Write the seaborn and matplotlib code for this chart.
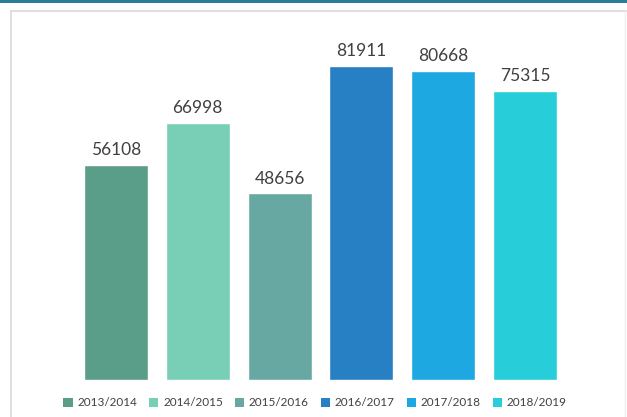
import matplotlib
matplotlib.use("Agg")
import matplotlib.pyplot as plt
import seaborn as sns
import pandas as pd
from matplotlib.patches import Rectangle
from matplotlib.lines import Line2D

categories = ["2013/2014", "2014/2015", "2015/2016", "2016/2017", "2017/2018", "2018/2019"]
values = [56108, 66998, 48656, 81911, 80668, 75315]
colors = ["#5A9E89", "#78CFB5", "#68A8A2", "#2880C4", "#1EA8E1", "#27CDD9"]

sns.set_theme(style="white")
plt.rcParams['font.family'] = ['Lato', 'DejaVu Sans']

df = pd.DataFrame({"year": categories, "value": values})

fig = plt.figure(figsize=(6.27, 4.17), dpi=100)
W, H = 627, 417
# top accent line
fig.patches.append(Rectangle((0, 1 - 3 / H), 1, 3 / H, transform=fig.transFigure,
                             facecolor="#2B7E9B", edgecolor="none", zorder=-2))
# panel border
ytop = 1 - 10.5 / H
fig.lines.append(Line2D([10.5 / W, 10.5 / W], [0, ytop], transform=fig.transFigure,
                        color="#D9D9D9", linewidth=1.2))
fig.lines.append(Line2D([10.5 / W, 1], [ytop, ytop], transform=fig.transFigure,
                        color="#D9D9D9", linewidth=1.2))
fig.lines.append(Line2D([625 / W, 625 / W], [0, ytop], transform=fig.transFigure,
                        color="#EFEFEF", linewidth=1.0))

ax = fig.add_axes([75.1 / W, (H - 380) / H, 490.8 / W, 340 / H])
ax.set_facecolor("none")
sns.barplot(data=df, x="year", y="value", hue="year", palette=colors, dodge=False,
            width=0.78, ax=ax, legend=False, saturation=1)
ax.set_xlim(-0.5, 5.5)
ax.set_ylim(0, 88700)
for c in ax.containers:
    ax.bar_label(c, padding=5, fontsize=12.5, color="#404040")
for s in ax.spines.values():
    s.set_visible(False)
ax.set_xticks([])
ax.set_yticks([])
ax.set_xlabel("")
ax.set_ylabel("")

handles = [Rectangle((0, 0), 1, 1, facecolor=c, edgecolor="none") for c in colors]
fig.legend(handles, categories, loc="center", bbox_to_anchor=(315 / W, (H - 403) / H), ncol=6,
           frameon=False, fontsize=8.5, handlelength=0.8, handleheight=0.8,
           handletextpad=0.4, columnspacing=1.0, labelcolor="#404040")

fig.savefig("out.png", dpi=100)
